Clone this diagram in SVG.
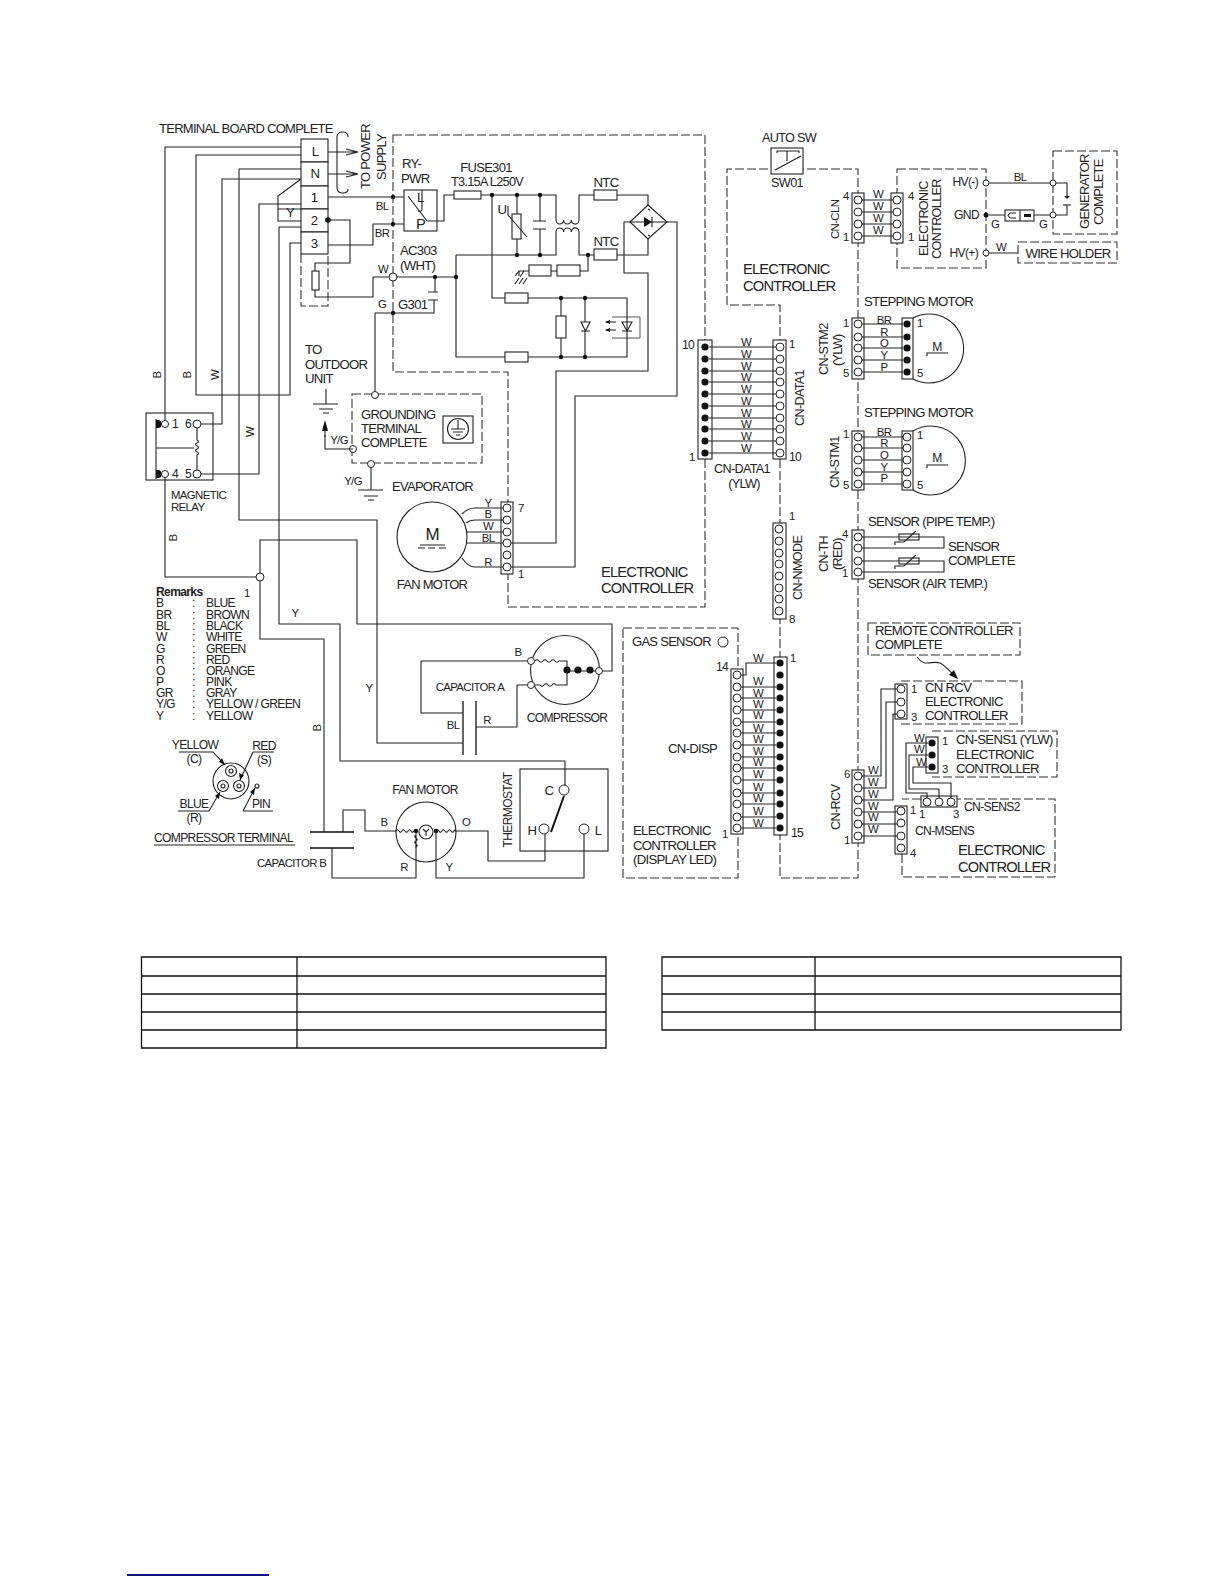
<svg xmlns="http://www.w3.org/2000/svg" width="1224" height="1584" viewBox="0 0 1224 1584">
<style>
text{font-family:"Liberation Sans",Arial,sans-serif;fill:#222;font-size:13px;letter-spacing:-.055em}
.s10{font-size:11.4px}.s11{font-size:12.1px}.s12{font-size:13.2px}.s13{font-size:14.7px}.v{font-size:12.7px}.m{text-anchor:middle}.e{text-anchor:end}.b{font-weight:bold}
.w,.n{fill:none;stroke:#222;stroke-width:1.1}
.g{fill:none;stroke:#555;stroke-width:1}
.f{fill:#fff;stroke:#222;stroke-width:1.1}
.k{fill:#111;stroke:none}
.t{fill:none;stroke:#111;stroke-width:1.3}
.da{fill:none;stroke:#333;stroke-width:1.1;stroke-dasharray:9 3}
.p{fill:#fff;stroke:#222;stroke-width:1}
</style>
<defs>
<circle id="o" r="4" class="p"/>
<circle id="d" r="3.6" class="k"/>
<circle id="j" r="2.2" class="k"/>
</defs>
<rect width="1224" height="1584" fill="#fff"/>

<g id="frames">
<path class="da" d="M393 135H705V607H508V372H393Z"/>
<path class="da" d="M727 305V169H858V878H780V305H727"/>
<rect class="da" x="897" y="169" width="89" height="99"/>
<rect class="da" x="1053" y="151" width="64" height="83"/>
<rect class="da" x="1018" y="242" width="99" height="21"/>
<path class="da" d="M352 394H482V463H352Z"/>
<path class="da" d="M301 254V306H328V254"/>
<rect class="da" x="623" y="628" width="115" height="250"/>
<rect class="da" x="868" y="623" width="152" height="32"/>
<path class="da" d="M901 681H1022V724H901"/>
<path class="da" d="M932 731H1057V777H932"/>
<path class="da" d="M902 854V877H1055V799H957M921 799H902"/>
</g>

<g id="terminal-board">
<rect class="f" x="301" y="139" width="27" height="23"/><rect class="f" x="301" y="162" width="27" height="24"/><rect class="f" x="301" y="186" width="27" height="23"/><rect class="f" x="301" y="209" width="27" height="23"/><rect class="f" x="301" y="232" width="27" height="22"/>
<text class="s12 m" x="315" y="156">L</text><text class="s12 m" x="315" y="178">N</text><text class="s12 m" x="314" y="202">1</text><text class="s12 m" x="314" y="225">2</text><text class="s12 m" x="314" y="248">3</text>
<text x="159" y="133">TERMINAL BOARD COMPLETE</text>
<text class="s12 m" x="290" y="217">Y</text>
<rect class="n" x="312" y="271" width="7" height="19"/>
<path class="n" d="M348 137Q348 132 343 132Q337 132 337 137V188Q337 193 343 193Q348 193 348 189"/>
<path class="n" d="M328 152H358M346 149L358 152L346 155M328 174H358M346 171L358 174L346 177"/>
<text transform="rotate(-90 370 189)" x="370" y="189">TO POWER</text>
<text transform="rotate(-90 386 180)" x="386" y="180">SUPPLY</text>
<circle cx="328" cy="220" r="2.800" class="k"/>
</g>

<g id="ry-pwr">
<rect class="n" x="404" y="190" width="33" height="41"/>
<path class="n" d="M408 196L427 221M422 190V209q0 3 -4 2"/>
<text x="402" y="168" class="s12">RY-</text><text x="401" y="183" class="s12">PWR</text>
<text x="417" y="202" class="s12">L</text><text x="416" y="229" class="s13">P</text>
</g>

<g id="power-circuit">
<rect class="f" x="454" y="191" width="27" height="8"/>
<text class="m" x="486" y="172">FUSE301</text><text class="m v" x="487" y="186">T3.15A L250V</text>
<rect class="f" x="594" y="190" width="23" height="10"/><rect class="f" x="594" y="249" width="23" height="11"/>
<text class="m s12" x="606" y="187">NTC</text><text class="m s12" x="606" y="246">NTC</text>
<rect class="f" x="512" y="214" width="9" height="25"/>
<path class="n" d="M508 206V215L527 237"/>
<text class="m s12" x="502" y="214">U</text>
<path class="n" d="M533 221H546M533 229H546"/>
<path class="f" d="M630 222L648 205L667 222L648 239Z"/>
<path class="k" d="M644 217L652 222L644 227Z"/><path class="n" d="M652 217V227M630 222H667M648 209l2 1M648 235l2 1"/>
<rect class="f" x="557" y="265" width="23" height="11"/><rect class="f" x="529" y="265" width="22" height="11"/>
<rect class="f" x="505" y="293" width="23" height="10"/><rect class="f" x="505" y="352" width="23" height="10"/>
<rect class="f" x="556" y="316" width="10" height="22"/>
<path class="n" d="M581 331H590M581 322H590L585.500 331Z"/>
<path class="g" d="M612 317H640V338H612"/>
<path class="n" d="M622 331H632M622 322H632L627 331ZM606 322H616M606 330H616"/>
<path class="k" d="M610 320l-5 2 5 2ZM610 328l-5 2 5 2Z"/>
<text x="400" y="255" class="s12">AC303</text><text x="400" y="270" class="s12">(WHT)</text>
<text x="398" y="309" class="s12">G301</text>
</g>

<g id="grounding-terminal">
<rect class="n" x="443" y="416" width="30" height="27"/>
<circle class="n" cx="458" cy="429" r="10.500"/>
<path class="n" d="M458 420V429M451 429H465M453 432H463M456 435H460"/>
<text x="361" y="419">GROUNDING</text><text x="361" y="433">TERMINAL</text><text x="361" y="447">COMPLETE</text>
<circle cx="375" cy="395" r="3.500" class="p"/><circle cx="353" cy="449" r="3.500" class="p"/><circle cx="371" cy="464" r="3.500" class="p"/>
</g>
<g id="outdoor-ground">
<text x="305" y="354" class="s12">TO</text><text x="305" y="369" class="s12">OUTDOOR</text><text x="305" y="383" class="s12">UNIT</text>
<path class="n" d="M313 404H338M319 409H333M323 413H329M358 490H383M364 496H378M368 500H374"/>
<text x="392" y="491">EVAPORATOR</text>
</g>

<g id="magnetic-relay">
<rect class="n" x="146" y="413" width="67" height="67"/>
<path class="n" d="M156 419V479"/>
<path class="k" d="M156 420h3a4.500 4.500 0 0 1 3 4a4.500 4.500 0 0 1 -3 4h-3ZM156 470h3a4.500 4.500 0 0 1 3 4a4.500 4.500 0 0 1 -3 4h-3Z"/>
<path class="n" d="M156 448H194M197 428V440q3 1.500 0 3q-3 1.500 0 3q3 1.500 0 3q-3 1.500 0 3q3 1.500 0 3V470"/>
<circle cx="165" cy="424" r="3.500" class="p"/><circle cx="165" cy="474" r="3.500" class="p"/><use href="#o" x="197" y="424"/><use href="#o" x="197" y="474"/>
<text class="s11" x="172" y="428">1</text><text class="s11" x="185" y="428">6</text><text class="s11" x="172" y="478">4</text><text class="s11" x="185" y="478">5</text>
<text class="s10" x="171" y="499">MAGNETIC</text><text class="s10" x="171" y="511">RELAY</text>
</g>

<g id="fan-motor-1">
<circle class="n" cx="432" cy="537" r="35"/>
<text class="m" x="432" y="540" style="font-size:17px">M</text>
<path class="n" d="M420 545H445M418 548H425M428 548H435M439 548H446"/>
<text class="m" x="432" y="589">FAN MOTOR</text>
</g>
<g id="cn-fanmotor">
<rect class="f" x="501" y="502" width="12" height="72"/>
<use href="#o" x="507" y="508"/><use href="#o" x="507" y="520"/><use href="#o" x="507" y="532"/><use href="#o" x="507" y="543"/><use href="#o" x="507" y="555"/><use href="#o" x="507" y="567"/>
<text class="s10" x="518" y="512">7</text><text class="s10" x="518" y="578">1</text>
</g>
<g id="main-controller-label"><text class="s13" x="601" y="577">ELECTRONIC</text><text class="s13" x="601" y="593">CONTROLLER</text></g>

<g id="cn-data1-left">
<rect class="f" x="698" y="340" width="14" height="119"/>
<use href="#d" x="705" y="347"/><use href="#d" x="705" y="359"/><use href="#d" x="705" y="371"/><use href="#d" x="705" y="382"/><use href="#d" x="705" y="394"/><use href="#d" x="705" y="406"/><use href="#d" x="705" y="418"/><use href="#d" x="705" y="429"/><use href="#d" x="705" y="441"/><use href="#d" x="705" y="453"/>
<text class="s11" x="682" y="349">10</text><text class="s10" x="689" y="461">1</text>
<text class="m v" x="742" y="473">CN-DATA1</text><text class="m v" x="744" y="488">(YLW)</text>
</g>
<g id="cn-data1-right">
<rect class="f" x="773" y="340" width="13" height="119"/>
<use href="#o" x="780" y="347"/><use href="#o" x="780" y="359"/><use href="#o" x="780" y="371"/><use href="#o" x="780" y="382"/><use href="#o" x="780" y="394"/><use href="#o" x="780" y="406"/><use href="#o" x="780" y="418"/><use href="#o" x="780" y="429"/><use href="#o" x="780" y="441"/><use href="#o" x="780" y="453"/>
<text class="s10" x="789" y="348">1</text><text class="s11" x="789" y="461">10</text>
<text class="v" transform="rotate(-90 804 426)" x="804" y="426">CN-DATA1</text>
</g>
<g id="cn-nmode">
<rect class="f" x="773" y="523" width="13" height="96"/>
<use href="#o" x="779" y="529"/><use href="#o" x="779" y="541"/><use href="#o" x="779" y="553"/><use href="#o" x="779" y="564"/><use href="#o" x="779" y="576"/><use href="#o" x="779" y="588"/><use href="#o" x="779" y="599"/><use href="#o" x="779" y="611"/>
<text class="s10" x="789" y="520">1</text><text class="s10" x="789" y="623">8</text>
<text class="v" transform="rotate(-90 802 600)" x="802" y="600">CN-NMODE</text>
</g>

<g id="auto-sw">
<rect class="f" x="771" y="148" width="32" height="26"/>
<path class="n" d="M775 170L801 156M777 153V151H799V153M787 151V161"/>
<text class="m v" x="789" y="142">AUTO SW</text><text class="m v" x="787" y="187">SW01</text>
</g>
<g id="left-controller-label"><text class="s13" x="743" y="274">ELECTRONIC</text><text class="s13" x="743" y="291">CONTROLLER</text></g>

<g id="cn-cln">
<rect class="f" x="852" y="193" width="12" height="50"/><rect class="f" x="891" y="193" width="12" height="50"/>
<use href="#o" x="858" y="200"/><use href="#o" x="858" y="212"/><use href="#o" x="858" y="224"/><use href="#o" x="858" y="236"/>
<use href="#o" x="897" y="200"/><use href="#o" x="897" y="212"/><use href="#o" x="897" y="224"/><use href="#o" x="897" y="236"/>
<text class="s10" transform="rotate(-90 839 239)" x="839" y="239">CN-CLN</text>
<text class="s10" x="843" y="200">4</text><text class="s10" x="843" y="241">1</text><text class="s10" x="908" y="200">4</text><text class="s10" x="908" y="241">1</text>
</g>
<g id="hv-controller">
<text class="s11 e" x="978" y="186">HV(-)</text><text class="s11 e" x="979" y="219">GND</text><text class="s11 e" x="978" y="257">HV(+)</text>
<text class="v" transform="rotate(-90 928 256)" x="928" y="256">ELECTRONIC</text>
<text class="v" transform="rotate(-90 941 259)" x="941" y="259">CONTROLLER</text>
<circle cx="986" cy="183" r="3" class="p"/><circle cx="986" cy="253" r="3" class="p"/><circle cx="986" cy="215" r="2.500" class="k"/>
</g>
<g id="c-connector">
<rect class="n" x="1005" y="210" width="29" height="11"/>
<path class="n" d="M1020 210V221M1016 213H1010L1008 215.500L1010 218H1016"/><rect class="k" x="1024" y="214" width="7" height="3"/>
</g>
<g id="generator">
<circle cx="1053" cy="183" r="3" class="p"/><circle cx="1053" cy="215" r="3" class="p"/>
<path class="n" d="M1063 205H1071"/><path class="k" d="M1064 196L1067 199L1070 196Z"/>
<text transform="rotate(-90 1089 229)" x="1089" y="229">GENERATOR</text>
<text transform="rotate(-90 1103 225)" x="1103" y="225">COMPLETE</text>
</g>
<g id="wire-holder"><text class="m s12" x="1068" y="258">WIRE HOLDER</text></g>

<g id="cn-stm2">
<rect class="f" x="852" y="318" width="12" height="61"/><rect class="f" x="902" y="318" width="11" height="61"/>
<use href="#o" x="858" y="324"/><use href="#o" x="858" y="337"/><use href="#o" x="858" y="348"/><use href="#o" x="858" y="360"/><use href="#o" x="858" y="372"/>
<use href="#d" x="907" y="324"/><use href="#d" x="907" y="337"/><use href="#d" x="907" y="348"/><use href="#d" x="907" y="360"/><use href="#d" x="907" y="372"/>
<path class="n" d="M913 318A34.500 34.500 0 1 1 913 379"/>
<path class="n" d="M927 356V353H948"/>
<text class="m s11" x="937" y="351">M</text>
<text x="864" y="306" class="s12">STEPPING MOTOR</text>
<text class="v" transform="rotate(-90 828 375)" x="828" y="375">CN-STM2</text>
<text class="v" transform="rotate(-90 842 366)" x="842" y="366">(YLW)</text>
<text class="s10" x="843" y="327">1</text><text class="s10" x="843" y="377">5</text><text class="s10" x="917" y="327">1</text><text class="s10" x="917" y="377">5</text>
</g>
<g id="cn-stm1">
<rect class="f" x="852" y="431" width="12" height="59"/><rect class="f" x="902" y="431" width="11" height="59"/>
<use href="#o" x="858" y="437"/><use href="#o" x="858" y="448"/><use href="#o" x="858" y="460"/><use href="#o" x="858" y="472"/><use href="#o" x="858" y="484"/>
<use href="#o" x="907" y="437"/><use href="#o" x="907" y="448"/><use href="#o" x="907" y="460"/><use href="#o" x="907" y="472"/><use href="#o" x="907" y="484"/>
<path class="n" d="M913 431A34.500 34.500 0 1 1 913 490"/>
<path class="n" d="M927 468V465H948"/>
<text class="m s11" x="937" y="462">M</text>
<text x="864" y="417" class="s12">STEPPING MOTOR</text>
<text class="v" transform="rotate(-90 839 488)" x="839" y="488">CN-STM1</text>
<text class="s10" x="843" y="438">1</text><text class="s10" x="843" y="489">5</text><text class="s10" x="917" y="439">1</text><text class="s10" x="917" y="489">5</text>
</g>
<g id="cn-th">
<rect class="f" x="852" y="530" width="12" height="49"/>
<use href="#o" x="858" y="537"/><use href="#o" x="858" y="548"/><use href="#o" x="858" y="561"/><use href="#o" x="858" y="572"/>
<text class="v" transform="rotate(-90 828 572)" x="828" y="572">CN-TH</text>
<text class="v" transform="rotate(-90 842 570)" x="842" y="570">(RED)</text>
<text class="s10" x="842" y="538">4</text><text class="s10" x="842" y="577">1</text>
<text x="868" y="526" class="s12">SENSOR (PIPE TEMP.)</text>
<text x="868" y="588" class="s12">SENSOR (AIR TEMP.)</text>
<text x="948" y="551" class="s12">SENSOR</text><text x="948" y="565" class="s12">COMPLETE</text>
</g>
<g id="thermistors">
<rect class="f" x="899" y="534" width="20" height="6"/><rect class="f" x="899" y="558" width="20" height="6"/>
<path class="n" d="M895 545V542H904L916 531M895 569V566H904L916 555"/>
</g>

<g id="gas-display">
<circle class="p" cx="723" cy="642" r="5"/>
<text x="632" y="646">GAS SENSOR</text>
<text x="668" y="753" class="s12">CN-DISP</text>
<text x="633" y="835" class="s12">ELECTRONIC</text><text x="633" y="850" class="s12">CONTROLLER</text><text x="633" y="864" class="s12">(DISPLAY LED)</text>
<text class="s11" x="716" y="671">14</text><text class="s10" x="722" y="838">1</text>
</g>
<g id="cn-disp-left">
<rect class="f" x="731" y="669" width="12" height="165"/>
<use href="#o" x="737" y="675"/><use href="#o" x="737" y="687"/><use href="#o" x="737" y="698"/><use href="#o" x="737" y="710"/><use href="#o" x="737" y="722"/><use href="#o" x="737" y="733"/><use href="#o" x="737" y="745"/><use href="#o" x="737" y="757"/><use href="#o" x="737" y="768"/><use href="#o" x="737" y="780"/><use href="#o" x="737" y="793"/><use href="#o" x="737" y="804"/><use href="#o" x="737" y="817"/><use href="#o" x="737" y="828"/>
</g>
<g id="cn-disp-right">
<rect class="f" x="774" y="657" width="13" height="178"/>
<use href="#d" x="780" y="663"/><use href="#d" x="780" y="675"/><use href="#d" x="780" y="687"/><use href="#d" x="780" y="698"/><use href="#d" x="780" y="710"/><use href="#d" x="780" y="722"/><use href="#d" x="780" y="733"/><use href="#d" x="780" y="745"/><use href="#d" x="780" y="757"/><use href="#d" x="780" y="768"/><use href="#d" x="780" y="780"/><use href="#d" x="780" y="793"/><use href="#d" x="780" y="804"/><use href="#d" x="780" y="816"/><use href="#d" x="780" y="828"/>
<text class="s10" x="790" y="662">1</text><text class="s11" x="791" y="837">15</text>
</g>

<g id="remote-controller">
<text x="875" y="635" class="s12">REMOTE CONTROLLER</text><text x="875" y="649" class="s12">COMPLETE</text>
<text class="s10" x="911" y="693">1</text><text x="925" y="692" class="s12">CN RCV</text><text x="925" y="706" class="s12">ELECTRONIC</text><text class="s10" x="911" y="721">3</text><text x="925" y="720" class="s12">CONTROLLER</text>
</g>
<g id="cn-rcv-a">
<rect class="f" x="895" y="684" width="12" height="35"/>
<use href="#o" x="901" y="689"/><use href="#o" x="901" y="702"/><use href="#o" x="901" y="714"/>
</g>
<g id="cn-sens1">
<rect class="f" x="926" y="737" width="12" height="36"/>
<use href="#d" x="932" y="743"/><use href="#d" x="932" y="755"/><use href="#d" x="932" y="767"/>
<text class="s10" x="942" y="745">1</text><text class="s10" x="942" y="773">3</text>
<text x="956" y="744" class="s12">CN-SENS1 (YLW)</text><text x="956" y="759" class="s12">ELECTRONIC</text><text x="956" y="773" class="s12">CONTROLLER</text>
</g>
<g id="cn-sens2">
<rect class="f" x="921" y="796" width="36" height="11"/>
<use href="#o" x="927" y="802"/><use href="#o" x="939" y="802"/><use href="#o" x="951" y="802"/>
<text class="s10" x="919" y="818">1</text><text class="s10" x="953" y="818">3</text>
<text x="964" y="811" class="s11">CN-SENS2</text>
</g>
<g id="cn-msens">
<rect class="f" x="895" y="806" width="12" height="48"/>
<use href="#o" x="901" y="811"/><use href="#o" x="901" y="823"/><use href="#o" x="901" y="836"/><use href="#o" x="901" y="848"/>
<text class="s10" x="910" y="814">1</text><text class="s10" x="910" y="857">4</text>
<text x="915" y="835" class="s11">CN-MSENS</text>
<text class="s13" x="958" y="855">ELECTRONIC</text><text class="s13" x="958" y="872">CONTROLLER</text>
</g>
<g id="cn-rcv">
<rect class="f" x="852" y="770" width="12" height="73"/>
<use href="#o" x="858" y="776"/><use href="#o" x="858" y="788"/><use href="#o" x="858" y="800"/><use href="#o" x="858" y="812"/><use href="#o" x="858" y="824"/><use href="#o" x="858" y="836"/>
<text class="v" transform="rotate(-90 840 830)" x="840" y="830">CN-RCV</text>
<text class="s10" x="844" y="778">6</text><text class="s10" x="844" y="844">1</text>
</g>

<g id="remarks">
<text class="b s11" x="156" y="596">Remarks</text><text class="s10" x="244" y="597">1</text>
<text class="s11" x="156" y="607">B</text><text class="s11" x="192" y="607">:</text><text class="s11" x="206" y="607">BLUE</text>
<text class="s11" x="156" y="619">BR</text><text class="s11" x="192" y="619">:</text><text class="s11" x="206" y="619">BROWN</text>
<text class="s11" x="156" y="630">BL</text><text class="s11" x="192" y="630">:</text><text class="s11" x="206" y="630">BLACK</text>
<text class="s11" x="156" y="641">W</text><text class="s11" x="192" y="641">:</text><text class="s11" x="206" y="641">WHITE</text>
<text class="s11" x="156" y="653">G</text><text class="s11" x="192" y="653">:</text><text class="s11" x="206" y="653">GREEN</text>
<text class="s11" x="156" y="664">R</text><text class="s11" x="192" y="664">:</text><text class="s11" x="206" y="664">RED</text>
<text class="s11" x="156" y="675">O</text><text class="s11" x="192" y="675">:</text><text class="s11" x="206" y="675">ORANGE</text>
<text class="s11" x="156" y="686">P</text><text class="s11" x="192" y="686">:</text><text class="s11" x="206" y="686">PINK</text>
<text class="s11" x="156" y="697">GR</text><text class="s11" x="192" y="697">:</text><text class="s11" x="206" y="697">GRAY</text>
<text class="s11" x="156" y="708">Y/G</text><text class="s11" x="192" y="708">:</text><text class="s11" x="206" y="708">YELLOW / GREEN</text>
<text class="s11" x="156" y="720">Y</text><text class="s11" x="192" y="720">:</text><text class="s11" x="206" y="720">YELLOW</text>
</g>

<g id="compressor-terminal">
<circle class="n" cx="231" cy="781" r="18"/>
<circle class="n" cx="231" cy="771" r="5.500"/><circle class="n" cx="231" cy="771" r="2"/>
<circle class="n" cx="223" cy="786" r="5.500"/><circle class="n" cx="223" cy="786" r="2"/>
<circle class="n" cx="239" cy="786" r="5.500"/><circle class="n" cx="239" cy="786" r="2"/>
<circle class="n" cx="257" cy="786" r="2"/>
<path class="n" d="M179 752H213L225 765M253 752H274M253 752L240 780M178 811H209L220 792M243 811H273M243 811L255 788"/>
<path class="k" d="M225 765l-6 -3 3 -4ZM240 780l-1 -7 5 2ZM220 792l-1 7 -4 -3ZM255 788l-1 7 -4 -3Z"/>
<text class="s11 m" x="195" y="749">YELLOW</text><text class="s11 m" x="194" y="763">(C)</text>
<text class="s11 m" x="264" y="750">RED</text><text class="s11 m" x="264" y="764">(S)</text>
<text class="s11 m" x="194" y="808">BLUE</text><text class="s11 m" x="194" y="822">(R)</text>
<text class="s11 m" x="261" y="808">PIN</text>
<text x="154" y="842" class="s11">COMPRESSOR TERMINAL</text>
<path class="n" d="M154 845H295"/>
</g>

<g id="capacitor-b">
<path class="t" d="M310 832H354M310 848H354"/>
<text class="s10" x="257" y="867">CAPACITOR B</text>
</g>
<g id="fan-motor-2">
<circle class="n" cx="426" cy="832" r="30"/>
<circle class="n" cx="426" cy="832" r="7"/>
<path class="n" d="M396 831q1.500 -2.500 3 0t3 0t3 0t3 0t3 0t3 0t3 0M436 831q1.500 -2.500 3 0t3 0t3 0t3 0t3 0t3 0t1 0M416 831V847q2.500 -1.500 0 -3t0 -3t0 -3t0 -3"/>
<path class="n" d="M423 829l3 3 3 -3M426 832V836"/>
<use href="#j" x="416" y="831"/><use href="#j" x="436" y="831"/>
<text class="m s11" x="425" y="794">FAN MOTOR</text>
</g>
<g id="thermostat">
<rect class="n" x="520" y="769" width="88" height="82"/>
<circle class="p" cx="564" cy="790" r="5"/><circle class="p" cx="544" cy="829" r="5"/><circle class="p" cx="584" cy="829" r="5"/>
<path d="M564 796L551 832" fill="none" stroke="#111" stroke-width="2"/>
<text class="m s12" x="549" y="795">C</text><text class="m s12" x="532" y="835">H</text><text class="m s12" x="598" y="835">L</text>
<text class="m s11" transform="rotate(-90 512 810)" x="512" y="810">THERMOSTAT</text>
</g>
<g id="compressor">
<circle class="n" cx="565" cy="670" r="34.500"/>
<circle class="p" cx="531" cy="661" r="3.500"/><circle class="p" cx="531" cy="685" r="3.500"/><circle class="p" cx="599" cy="671" r="3.500"/>
<path class="n" d="M535 661q2 -2.500 4 0t4 0t4 0t4 0t4 0t4 0H567V685H556q-2 -2.500 -4 0t-4 0t-4 0t-4 0H535M567 671H596"/>
<use href="#d" x="567" y="670"/><use href="#d" x="578" y="670"/><use href="#d" x="590" y="670"/>
<text class="m s11" x="567" y="722">COMPRESSOR</text>
</g>
<g id="capacitor-a">
<path class="t" d="M463 701V755M476 701V755"/>
<text class="m s10" x="470" y="691">CAPACITOR A</text>
</g>

<g id="connectors">
<path class="w" d="M301 147H165V420.500M165 477.500V577H256M301 155H196V395H290V243H301M301 169H239V520H377V743H463M301 179H222V424H201M301 179L278 196V221H301M278 209H301M301 204H259V474H201M301 227H279V624H340V761H565V785M260 573V540H357V624H612V671H602.500M260 581V639H324V832M332 848V878H416V847M343 832V810H365V831H396M455 831H488V861H545V834M436 831V878H584V834M527 661H421V713H463M476 727H517V685H527"/>
<path class="w" d="M328 197H404M328 220H350V263H315V271M315 290V297H373V277H389M328 245H373V224H404M427 221H444V195H454M481 195H556V220a3.800 4 0 0 0 7.600 0a3.800 4 0 0 0 7.600 0a3.800 4 0 0 0 7.800 0V195H594M617 195H648V205M397 277H456M456 255V357H505M456 255H556V232a3.800 4 0 0 1 7.600 0a3.800 4 0 0 1 7.600 0a3.800 4 0 0 1 7.800 0V255H594M617 255H648V239M435 277V292M428 292H438M428 300H438M434 300V313H393M393 313H375V391.500M353 449H325V435M371 467.500V490M326 389V404"/>
<path class="w" d="M492 195V298H505M528 298H627V357H528M517 195V214M517 239V255M540 195V221M540 229V255M561 298V316M561 338V357M585 298V322M585 331V357M588 255V271H580M557 271H551M529 271H519L515 276M524 271L520 277M519 271V276M515 284L519 278M519 284L523 278M523 284L527 278"/>
<path class="w" d="M630 222H624V273H648V371H556V543H511M667 222H677V396H575V567H511M462 514Q468 508 475 508H503M466 523Q470 520 475 520H503M467 532H503M467 543H503M462 558Q468 567 475 567H503"/>
<path class="w" d="M709 347H776M709 359H776M709 371H776M709 382H776M709 394H776M709 406H776M709 418H776M709 429H776M709 441H776M709 453H776"/>
<path class="w" d="M862 200H893M862 212H893M862 224H893M862 236H893M989 183H1050M1056 183H1067V196M1067 205V215H1056M989 215H1005M1034 215H1050M989 253H1018"/>
<path class="w" d="M862 324H903M862 337H903M862 348H903M862 360H903M862 372H903M862 437H903M862 448H903M862 460H903M862 472H903M862 484H903"/>
<path class="w" d="M862 537H944V548H862M862 561H944V572H862"/>
<path class="w" d="M741 675H746V663H776M741 687H776M741 698H776M741 710H776M741 722H776M741 733H776M741 745H776M741 757H776M741 768H776M741 780H776M741 793H776M741 804H776M741 817H776M741 828H776"/>
<path class="w" d="M862 776H881V689H897M862 788H886V702H897M862 800H893V714H897M862 812H897M862 824H897M862 836H897M928 743H906V793H927V798M928 755H909V789H939V798M928 767H913V783H951V798"/>
<path class="n" d="M917 657C925 668 932 660 940 663C945 665 950 672 957 678"/>
<path class="k" d="M958 679L949 675L954 670Z"/>
<path class="n" d="M325 437V426"/><path class="k" d="M325 420L322 431H328Z"/>
<use href="#j" x="393" y="197"/><use href="#j" x="393" y="224"/><use href="#j" x="393" y="313"/>
<use href="#j" x="435" y="277"/><use href="#j" x="456" y="277"/><use href="#j" x="492" y="195"/><use href="#j" x="517" y="195"/><use href="#j" x="540" y="195"/><use href="#j" x="517" y="255"/><use href="#j" x="540" y="255"/><use href="#j" x="588" y="255"/><use href="#j" x="561" y="298"/><use href="#j" x="585" y="298"/><use href="#j" x="561" y="357"/><use href="#j" x="585" y="357"/>
<circle cx="393" cy="277" r="4" class="p"/>
<circle cx="260" cy="577" r="4" class="p"/>
</g>

<g id="wire-labels">
<text class="m s10" transform="rotate(-90 157 375)" x="157" y="379">B</text><text class="m s10" transform="rotate(-90 187 375)" x="187" y="379">B</text><text class="m s10" transform="rotate(-90 215 375)" x="215" y="379">W</text><text class="m s10" transform="rotate(-90 250 432)" x="250" y="436">W</text><text class="m s10" transform="rotate(-90 173 538)" x="173" y="542">B</text><text class="m s10" transform="rotate(-90 317 728)" x="317" y="732">B</text>
<text class="m s10" x="295" y="617">Y</text><text class="m s10" x="369" y="692">Y</text>
<text class="m s10" x="382" y="210">BL</text><text class="m s10" x="382" y="237">BR</text><text class="m s10" x="383" y="273">W</text><text class="m s10" x="382" y="308">G</text>
<text class="m s10" x="339" y="444">Y/G</text><text class="m s10" x="353" y="485">Y/G</text>
<text class="m s10" x="488" y="507">Y</text><text class="m s10" x="488" y="518">B</text><text class="m s10" x="488" y="530">W</text><text class="m s10" x="488" y="542">BL</text><text class="m s10" x="488" y="566">R</text>
<text class="m s10" x="518" y="656">B</text><text class="m s10" x="453" y="729">BL</text><text class="m s10" x="487" y="724">R</text>
<text class="m s10" x="384" y="826">B</text><text class="m s10" x="466" y="826">O</text><text class="m s10" x="404" y="871">R</text><text class="m s10" x="449" y="871">Y</text>
<text class="m s10" x="746" y="346">W</text><text class="m s10" x="746" y="358">W</text><text class="m s10" x="746" y="370">W</text><text class="m s10" x="746" y="381">W</text><text class="m s10" x="746" y="393">W</text><text class="m s10" x="746" y="405">W</text><text class="m s10" x="746" y="417">W</text><text class="m s10" x="746" y="428">W</text><text class="m s10" x="746" y="440">W</text><text class="m s10" x="746" y="452">W</text>
<text class="m s10" x="878" y="198">W</text><text class="m s10" x="878" y="210">W</text><text class="m s10" x="878" y="222">W</text><text class="m s10" x="878" y="234">W</text>
<text class="m s10" x="1020" y="181">BL</text><text class="m s10" x="995" y="228">G</text><text class="m s10" x="1043" y="228">G</text><text class="m s10" x="1001" y="251">W</text>
<text class="m s10" x="884" y="324">BR</text><text class="m s10" x="884" y="336">R</text><text class="m s10" x="884" y="347">O</text><text class="m s10" x="884" y="359">Y</text><text class="m s10" x="884" y="371">P</text>
<text class="m s10" x="884" y="436">BR</text><text class="m s10" x="884" y="447">R</text><text class="m s10" x="884" y="459">O</text><text class="m s10" x="884" y="471">Y</text><text class="m s10" x="884" y="482">P</text>
<text class="m s10" x="758" y="662">W</text><text class="m s10" x="758" y="685">W</text><text class="m s10" x="758" y="697">W</text><text class="m s10" x="758" y="708">W</text><text class="m s10" x="758" y="719">W</text><text class="m s10" x="758" y="732">W</text><text class="m s10" x="758" y="743">W</text><text class="m s10" x="758" y="755">W</text><text class="m s10" x="758" y="766">W</text><text class="m s10" x="758" y="778">W</text><text class="m s10" x="758" y="791">W</text><text class="m s10" x="758" y="802">W</text><text class="m s10" x="758" y="815">W</text><text class="m s10" x="758" y="827">W</text>
<text class="m s10" x="873" y="774">W</text><text class="m s10" x="873" y="786">W</text><text class="m s10" x="873" y="798">W</text><text class="m s10" x="873" y="810">W</text><text class="m s10" x="873" y="821">W</text><text class="m s10" x="873" y="833">W</text>
<text class="m s10" x="919" y="742">W</text><text class="m s10" x="919" y="753">W</text><text class="m s10" x="921" y="766">W</text>
</g>

<g id="tables" fill="none" stroke="#111" stroke-width="1.300">
<path d="M141.500 957H606V1048H141.500ZM141.500 976H606M141.500 994H606M141.500 1012H606M141.500 1030H606M297 957V1048"/>
<path d="M662 957H1121V1030H662ZM662 976H1121M662 994H1121M662 1012H1121M815 957V1030"/>
</g>
<path id="footnote-rule" d="M127 1575H269" stroke="#10107c" stroke-width="2" fill="none"/>
</svg>
